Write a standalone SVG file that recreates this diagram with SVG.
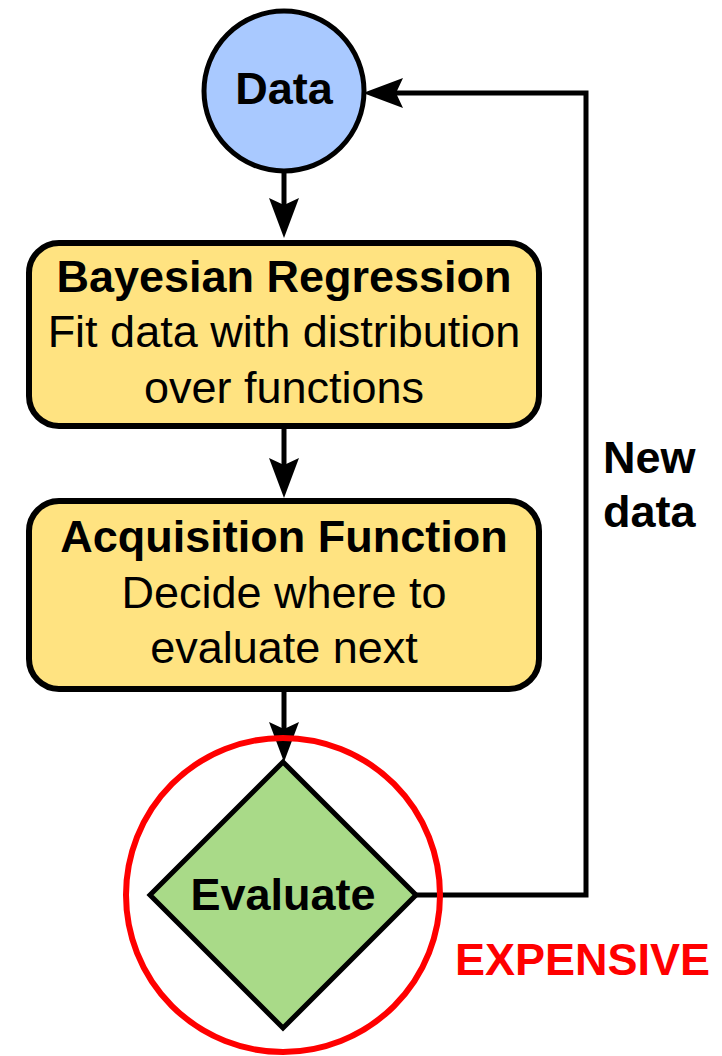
<svg xmlns="http://www.w3.org/2000/svg" width="722" height="1056" viewBox="0 0 722 1056">
<style>
.t{font-family:"Liberation Sans",Arial,sans-serif;font-size:45px;fill:#000;text-anchor:middle}
.b{font-weight:bold}
.box{fill:#FFE381;stroke:#000;stroke-width:6}
.conn{fill:none;stroke:#000;stroke-width:5}
</style>
<defs>
<marker id="arr" markerUnits="userSpaceOnUse" markerWidth="44" markerHeight="34" viewBox="-2 -17 44 34" refX="10" refY="0" orient="auto">
<path d="M40,0 L0,-15 L7,0 L0,15 Z" fill="#000"/>
</marker>
</defs>
<g id="connectors">
<path class="conn" d="M284,172 L284,208" marker-end="url(#arr)"/>
<path class="conn" d="M284,429 L284,468" marker-end="url(#arr)"/>
<path class="conn" d="M284,692 L284,732" marker-end="url(#arr)"/>
<path class="conn" d="M415,895 L586,895 L586,93 L393,93" marker-end="url(#arr)"/>
</g>
<g id="data">
<circle cx="284" cy="91" r="80" fill="#A9C9FF" stroke="#000" stroke-width="5"/>
<text class="t b" x="284" y="104">Data</text>
</g>
<g id="bayesian">
<rect class="box" x="29" y="243" width="510" height="183" rx="30"/>
<text class="t b" x="284" y="292">Bayesian Regression</text>
<text class="t" x="284" y="347">Fit data with distribution</text>
<text class="t" x="284" y="403">over functions</text>
</g>
<g id="acquisition">
<rect class="box" x="29" y="501" width="510" height="188" rx="30"/>
<text class="t b" x="284" y="552">Acquisition Function</text>
<text class="t" x="284" y="608">Decide where to</text>
<text class="t" x="284" y="663">evaluate next</text>
</g>
<g id="evaluate">
<polygon points="283,762 416,895 283,1028 150,895" fill="#A9DA88" stroke="#000" stroke-width="5"/>
<text class="t b" x="283" y="910">Evaluate</text>
</g>
<g id="expensive">
<circle cx="283" cy="895" r="157" fill="none" stroke="#FF0000" stroke-width="6"/>
<text class="t b" x="455" y="975" style="text-anchor:start;fill:#FF0000">EXPENSIVE</text>
</g>
<g id="newdata">
<text class="t b" x="603" y="473" style="text-anchor:start">New</text>
<text class="t b" x="603" y="527" style="text-anchor:start">data</text>
</g>
</svg>
